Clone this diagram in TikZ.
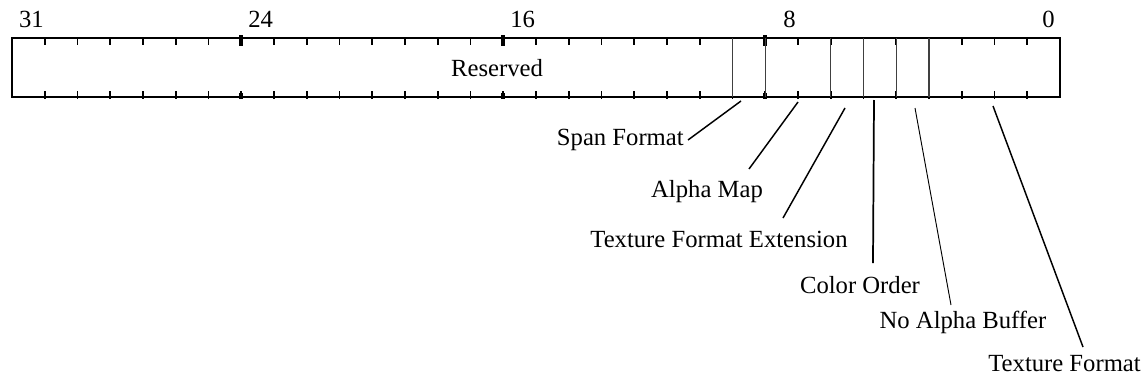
\documentclass[tikz,border=0pt]{standalone}
\usepackage{fontspec}
\setmainfont{Liberation Serif}
\tikzset{
  ruler/.style={line width=1.5pt},
  bittick/.style={line width=1.3pt},
  boldtick/.style={line width=3pt},
  field/.style={line width=0.8pt, black!75},
  leader/.style={line width=1.1pt},
  lbl/.style={inner sep=0.75pt, font=\fontsize{18.5}{22}\selectfont},
  num/.style={inner sep=0.75pt, font=\fontsize{18.5}{22}\selectfont},
}
\begin{document}
\begin{tikzpicture}[x=0.75pt,y=0.75pt,yscale=-1,xscale=1]
\useasboundingbox (0,0) rectangle (1143,386);
\def\bw{32.75}

%Shape: Register box
\coordinate (nw) at (12,38);
\coordinate (se) at (1060,97);
\draw [ruler] (nw) rectangle (se);

%Straight Lines: bit ticks
\foreach \k in {1,...,31} {
  \draw [bittick] ({12+\k*\bw},37) -- ({12+\k*\bw},45);
  \draw [bittick] ({12+\k*\bw},91) -- ({12+\k*\bw},99);
}
\foreach \k in {7,15,23} {
  \draw [boldtick] ({12+\k*\bw},35) -- ({12+\k*\bw},46);
  \draw [boldtick] ({12+\k*\bw},93) -- ({12+\k*\bw},99);
}

%Straight Lines: field borders
\foreach \k in {22,23,25,26,27,28}
  \draw [field] ({12+\k*\bw},38) -- ({12+\k*\bw},97);

% Text Node: bit numbers
\foreach \b/\dx in {31/3,24/3,16/3,8/8,0/5}
  \node [num, anchor=base] (n\b) at ({12+(31.5-\b)*\bw+\dx},27) {\b};

% Text Node
\node [inner sep=0.75pt, font=\fontsize{18.5}{22}\selectfont, anchor=base] (reserved) at (497,76) {Reserved};

%Leader start points
\coordinate (b9) at (741,101);
\coordinate (b8) at (798,102);
\coordinate (b6) at (845,108);
\coordinate (b5) at (874,100);
\coordinate (b4) at (915,108);
\coordinate (b0) at (993,106);

% Text Node
\node [lbl, anchor=base east] (span) at (685,145) {Span Format};
% Text Node
\node [lbl, anchor=base] (alpha) at (707,197) {Alpha Map};
% Text Node
\node [lbl, anchor=base] (texext) at (719,247) {Texture Format Extension};
% Text Node
\node [lbl, anchor=base] (order) at (860,293) {Color Order};
% Text Node
\node [lbl, anchor=base] (noalpha) at (963,328) {No Alpha Buffer};
% Text Node
\node [lbl, anchor=base east] (texfmt) at (1142,371) {Texture Format};

%Straight Lines: leaders
\draw [leader] (b9) -- ([shift={(3,-5)}]span.base east);
\draw [leader] (b8) -- ([shift={(42,-28)}]alpha.base);
\draw [leader] (b6) -- ([shift={(64,-29)}]texext.base);
\draw [leader, line width=1.3pt] (b5) -- ([shift={(13,-30)}]order.base);
\draw [leader, line width=0.7pt] (b4) -- ([shift={(-12,-23)}]noalpha.base);
\draw [leader] (b0) -- ([shift={(-59,-24)}]texfmt.base east);

\end{tikzpicture}
\end{document}
